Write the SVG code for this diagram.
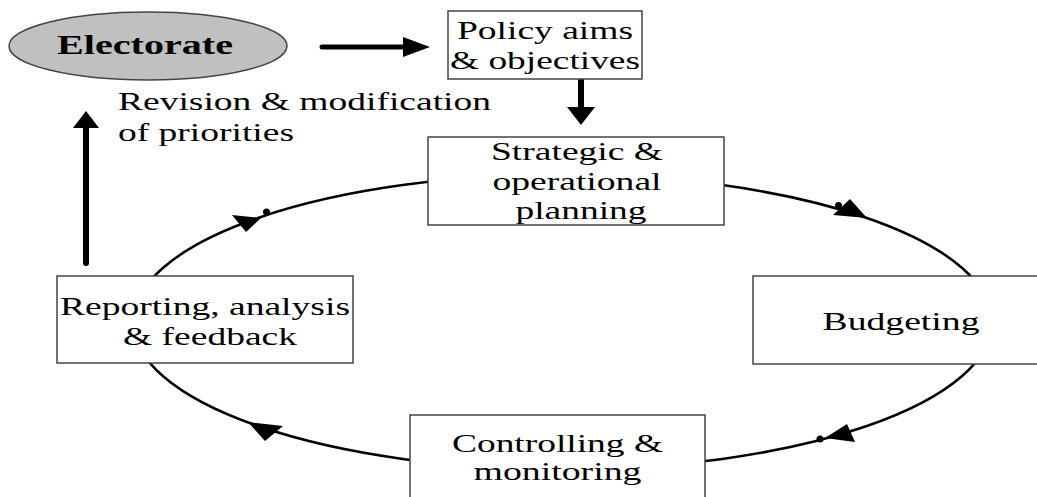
<svg xmlns="http://www.w3.org/2000/svg" width="1037" height="497" viewBox="0 0 1037 497">
<style>
.box{fill:#fff;stroke:#444;stroke-width:1.5}
text{font-family:"Liberation Serif","Times New Roman","DejaVu Serif",serif;font-size:25px;fill:#000;text-anchor:middle}
.b{font-weight:bold;font-size:27px}
.s{text-anchor:start}
.ln{stroke:#000;fill:none}
</style>
<rect width="1037" height="497" fill="#fff"/>
<g id="connectors">
  <ellipse class="ln" cx="562.5" cy="322" rx="429.5" ry="147.5" stroke-width="2.5"/>
  <polygon points="232,215 261,218 246,232"/>
  <circle cx="266.5" cy="212" r="3.5"/>
  <polygon points="833,215 850,199 867,218"/>
  <circle cx="838.5" cy="205.5" r="3.5"/>
  <polygon points="825,438 847,424 855,442"/>
  <circle cx="820" cy="439" r="3.5"/>
  <polygon points="248,422 283,426 265,441"/>
  <line class="ln" x1="322" y1="47" x2="405" y2="47" stroke-width="5" stroke-linecap="round"/>
  <polygon points="403,37 430,47 403,57"/>
  <line class="ln" x1="581" y1="79" x2="581" y2="109" stroke-width="6"/>
  <polygon points="567,107 595,107 581,125"/>
  <line class="ln" x1="86" y1="263" x2="86" y2="126" stroke-width="6" stroke-linecap="round"/>
  <polygon points="73,128 99,128 86,111"/>
</g>
<g id="electorate">
  <ellipse cx="148" cy="46" rx="139" ry="34" fill="#c0c0c0" stroke="#444" stroke-width="1.5"/>
  <text class="b" x="145" y="54" font-family="Liberation Serif, serif" textLength="176" lengthAdjust="spacingAndGlyphs">Electorate</text>
</g>
<g id="policy">
  <rect class="box" x="448" y="11" width="194" height="68"/>
  <text x="545" y="39" font-family="Liberation Serif, serif" textLength="176" lengthAdjust="spacingAndGlyphs">Policy aims</text>
  <text x="545" y="69" font-family="Liberation Serif, serif" textLength="190" lengthAdjust="spacingAndGlyphs">&amp; objectives</text>
</g>
<g id="revision-label">
  <text class="s" x="118" y="110" font-family="Liberation Serif, serif" textLength="373" lengthAdjust="spacingAndGlyphs">Revision &amp; modification</text>
  <text class="s" x="118" y="141" font-family="Liberation Serif, serif" textLength="176" lengthAdjust="spacingAndGlyphs">of priorities</text>
</g>
<g id="strategic">
  <rect class="box" x="428" y="137" width="296" height="88"/>
  <text x="577" y="160" font-family="Liberation Serif, serif" textLength="172" lengthAdjust="spacingAndGlyphs">Strategic &amp;</text>
  <text x="577" y="190" font-family="Liberation Serif, serif" textLength="169" lengthAdjust="spacingAndGlyphs">operational</text>
  <text x="581" y="219" font-family="Liberation Serif, serif" textLength="131" lengthAdjust="spacingAndGlyphs">planning</text>
</g>
<g id="budgeting">
  <rect class="box" x="753" y="276" width="300" height="88"/>
  <text x="901" y="330" font-family="Liberation Serif, serif" textLength="157" lengthAdjust="spacingAndGlyphs">Budgeting</text>
</g>
<g id="controlling">
  <rect class="box" x="410" y="415" width="295" height="100"/>
  <text x="557.5" y="452" font-family="Liberation Serif, serif" textLength="211" lengthAdjust="spacingAndGlyphs">Controlling &amp;</text>
  <text x="557.5" y="480" font-family="Liberation Serif, serif" textLength="168" lengthAdjust="spacingAndGlyphs">monitoring</text>
</g>
<g id="reporting">
  <rect class="box" x="57" y="276" width="296" height="87"/>
  <text x="205" y="315" font-family="Liberation Serif, serif" textLength="290" lengthAdjust="spacingAndGlyphs">Reporting, analysis</text>
  <text x="210" y="345" font-family="Liberation Serif, serif" textLength="174" lengthAdjust="spacingAndGlyphs">&amp; feedback</text>
</g>
</svg>
